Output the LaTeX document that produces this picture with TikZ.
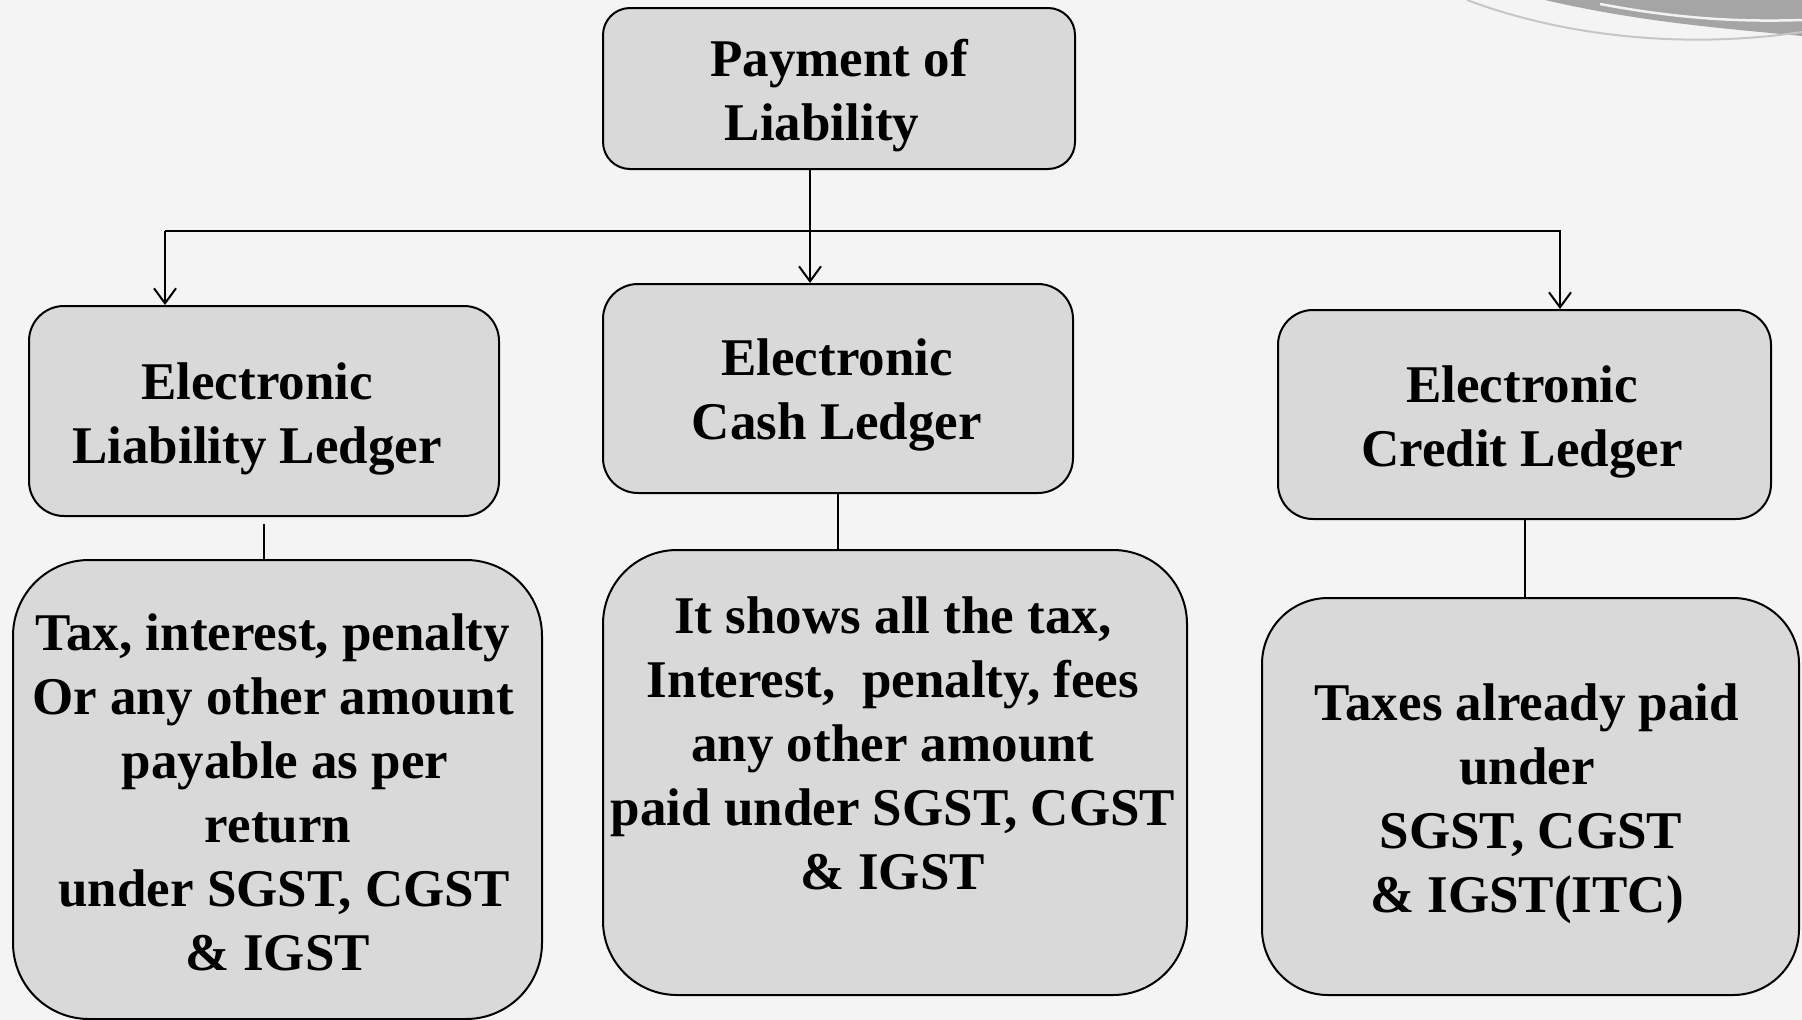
\documentclass[tikz,border=0pt]{standalone}
\usepackage{fontspec}
\setmainfont{Liberation Serif}
\usetikzlibrary{arrows.meta}
\definecolor{bgc}{RGB}{244,244,244}
\definecolor{boxc}{RGB}{217,217,217}
\definecolor{swoosh}{RGB}{165,165,165}
\tikzset{
  boxs/.style={draw=black, line width=2pt, fill=boxc, inner sep=0pt},
  txt/.style={align=center, font=\fontsize{53}{64}\selectfont\bfseries, inner sep=0pt},
  conn/.style={draw=black, line width=2pt},
  arr/.style={conn, -{Straight Barb[length=15pt,width=22pt,line width=2pt]}}
}
\begin{document}
\begin{tikzpicture}[x=1pt,y=-1pt]
\useasboundingbox (0,0) rectangle (1802,1020);
\fill[bgc] (0,0) rectangle (1802,1020);
% top-right swoosh
\fill[swoosh] (1545,0) .. controls (1640,22) and (1720,28) .. (1802,36) -- (1802,0) -- cycle;
\draw[white!90!gray, line width=2.5pt] (1600,4) .. controls (1680,19) and (1740,22) .. (1802,20);
\draw[gray!45, line width=2pt] (1467,0) .. controls (1560,35) and (1680,50) .. (1802,32);

% boxes
\node[boxs, rounded corners=27pt, minimum width=472pt, minimum height=161pt] (top) at (839,88.5) {};
\node[boxs, rounded corners=35pt, minimum width=470pt, minimum height=210pt] (liab) at (264,411) {};
\node[boxs, rounded corners=35pt, minimum width=470pt, minimum height=209pt] (cash) at (838,388.5) {};
\node[boxs, rounded corners=35pt, minimum width=493pt, minimum height=209pt] (credit) at (1524.5,414.5) {};
\node[boxs, rounded corners=76pt, minimum width=529pt, minimum height=459pt] (lowL) at (277.5,789.5) {};
\node[boxs, rounded corners=74pt, minimum width=584pt, minimum height=445pt] (lowM) at (895,772.5) {};
\node[boxs, rounded corners=66pt, minimum width=537pt, minimum height=397pt] (lowR) at (1530.5,796.5) {};

% texts
\node[txt] (ttop) at (839,96) {Payment of\\Liability\hspace*{34pt}};
\node[txt] (tliab) at (257,418.5) {Electronic\\Liability Ledger};
\node[txt] (tcash) at (837,395) {Electronic\\Cash Ledger};
\node[txt] (tcredit) at (1522,422) {Electronic\\Credit Ledger};
\node[txt] (tlowL) at (273,792) {Tax, interest, penalty\\Or any other amount\\\hspace*{24pt}payable as per\\\hspace*{10pt}return\\\hspace*{22pt}under SGST, CGST\\\hspace*{10pt}\& IGST};
\node[txt] (tlowM) at (893,743) {It shows all the tax,\\Interest,\ \ penalty, fees\\any other amount\\paid under SGST, CGST\\\& IGST};
\node[txt] (tlowR) at (1527,804) {Taxes already paid\\under\\\hspace*{8pt}SGST, CGST\\\& IGST(ITC)};

% connectors
\coordinate (jn) at (810,231);
\coordinate (jl) at (165,231);
\coordinate (jr) at (1560,231);
\draw[arr] (top.south -| jn) -- (cash.north -| jn);
\draw[arr] (jl) -- (liab.north -| jl);
\draw[arr] (jl) -- (jr) -- (credit.north -| jr);
\draw[conn] ([yshift=-7pt]liab.south) -- (lowL.north -| liab.south);
\draw[conn] (cash.south) -- (lowM.north -| cash.south);
\draw[conn] (credit.south) -- (lowR.north -| credit.south);
\end{tikzpicture}
\end{document}
